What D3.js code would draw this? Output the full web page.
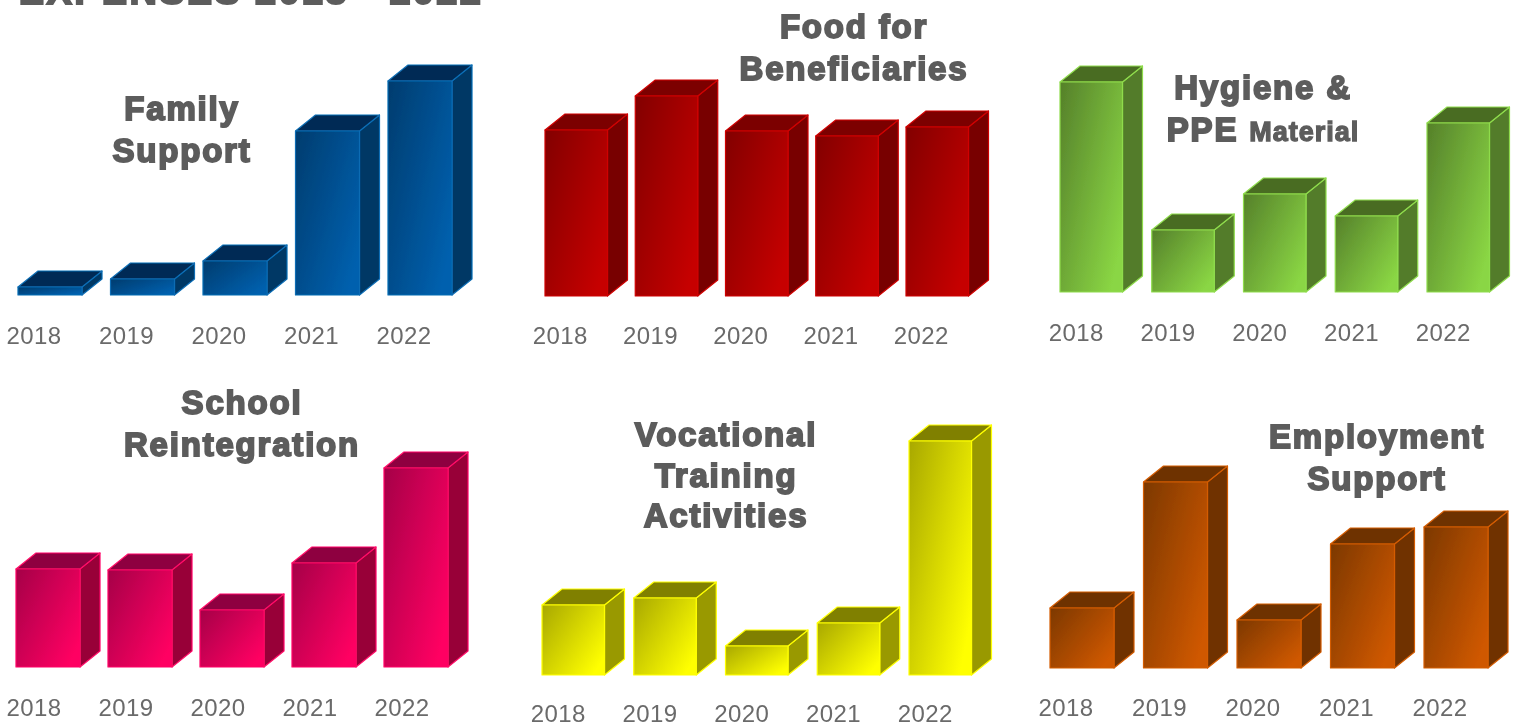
<!DOCTYPE html>
<html>
<head>
<meta charset="utf-8">
<script src="https://cdn.jsdelivr.net/npm/d3@7"></script>
<style>
  html, body { margin: 0; padding: 0; background: #fff; overflow: hidden; }
  svg { display: block; }
  text { font-family: "Liberation Sans", Arial, sans-serif; }
  .panel-title, .page-title { font-weight: 700; fill: #5c5c5c; stroke: #5c5c5c; text-anchor: middle; }
  .year-axis text { fill: #6a6a6a; font-size: 24px; letter-spacing: 0.4px; }
</style>
</head>
<body>
<div id="chart"></div>
<script>
// no y axis in the source, values are relative bar heights
const years = ["2018", "2019", "2020", "2021", "2022"];
const familySupport = [8, 16, 34, 164, 214];
const foodForBeneficiaries = [166, 200, 165, 160, 169];
const hygieneAndPpe = [210, 62, 98, 76, 169];
const schoolReintegration = [98, 97, 57, 104, 199];
const vocationalTraining = [70, 77, 29, 52, 234];
const employmentSupport = [60, 186, 48, 124, 141];

const width = 1521;
const height = 724;
const depthX = 20;
const depthY = 16;

const panels = [
  { id: "family", values: familySupport, left: 18, step: 92.5, barWidth: 64, base: 295, labelY: 327, labelShift: -16,
    front: ["#003c6e", "#0060ae"], top: "#002b54", side: "#003865", edge: "#0a6cb4",
    title: [["Family"], ["Support"]], titleX: 182, titleY: 120, lineHeight: 41.5 },
  { id: "food", values: foodForBeneficiaries, left: 545, step: 90.25, barWidth: 62.5, base: 296, labelY: 327, labelShift: -16,
    front: ["#820000", "#c60000"], top: "#7c0000", side: "#780000", edge: "#d00000",
    title: [["Food for"], ["Beneficiaries"]], titleX: 854, titleY: 38, lineHeight: 41.5 },
  { id: "hygiene", values: hygieneAndPpe, left: 1060, step: 91.75, barWidth: 62.5, base: 292, labelY: 324, labelShift: -15,
    front: ["#55802a", "#8ad644"], top: "#486c22", side: "#527c2a", edge: "#8fdc4c",
    title: [["Hygiene &"], ["PPE ", "Material"]], titleX: 1263, titleY: 99, lineHeight: 41.5 },
  { id: "school", values: schoolReintegration, left: 16, step: 92, barWidth: 64, base: 667, labelY: 699, labelShift: -14,
    front: ["#a50048", "#ff0062"], top: "#8e0040", side: "#980038", edge: "#ff0a66",
    title: [["School"], ["Reintegration"]], titleX: 242, titleY: 414, lineHeight: 41.5 },
  { id: "vocational", values: vocationalTraining, left: 542, step: 91.75, barWidth: 62.5, base: 675, labelY: 705, labelShift: -15,
    front: ["#a8a800", "#ffff00"], top: "#808000", side: "#999900", edge: "#ffff00",
    title: [["Vocational"], ["Training"], ["Activities"]], titleX: 726, titleY: 446, lineHeight: 40.5 },
  { id: "employment", values: employmentSupport, left: 1050, step: 93.5, barWidth: 64, base: 668, labelY: 699, labelShift: -16,
    front: ["#7c3800", "#cf5800"], top: "#6e3000", side: "#703200", edge: "#d45c00",
    title: [["Employment"], ["Support"]], titleX: 1377, titleY: 448, lineHeight: 41.5 },
];

const svg = d3.select("#chart").append("svg")
  .attr("width", width)
  .attr("height", height)
  .attr("viewBox", [0, 0, width, height]);

const defs = svg.append("defs");

// the source is a slightly soft screenshot
defs.append("filter").attr("id", "soft")
  .append("feGaussianBlur").attr("stdDeviation", 0.45);

svg.append("text")
  .attr("class", "page-title")
  .attr("x", 251)
  .attr("y", 4)
  .attr("font-size", 38)
  .attr("stroke-width", 1.9)
  .attr("letter-spacing", 2.3)
  .attr("filter", "url(#soft)")
  .text("EXPENSES 2018 - 2022");

panels.forEach(drawPanel);

function drawPanel(p) {
  const barWidth = p.barWidth;

  const x = d3.scaleBand()
    .domain(years)
    .range([p.left, p.left + 4 * p.step + barWidth])
    .paddingInner(1 - barWidth / p.step)
    .paddingOuter(0);

  const y = d3.scaleLinear()
    .domain([0, 220])
    .range([p.base, p.base - 220]);

  const grad = defs.append("linearGradient")
    .attr("id", `front-${p.id}`)
    .attr("x1", 0).attr("y1", 0)
    .attr("x2", 1).attr("y2", 0.75);
  grad.append("stop").attr("offset", 0).attr("stop-color", p.front[0]);
  grad.append("stop").attr("offset", 1).attr("stop-color", p.front[1]);

  const g = svg.append("g").attr("class", `panel panel-${p.id}`);

  const bar = g.selectAll(".bar")
    .data(years.map((year, i) => ({ year, value: p.values[i] })))
    .join("g")
    .attr("class", "bar")
    .attr("stroke", p.edge)
    .attr("stroke-width", 1.2)
    .attr("stroke-linejoin", "round")
    .attr("filter", "url(#soft)");

  bar.append("path")
    .attr("fill", p.side)
    .attr("d", (d) => {
      const x1 = x(d.year) + barWidth;
      const yt = y(d.value);
      return `M${x1},${yt}l${depthX},${-depthY}V${p.base - depthY}L${x1},${p.base}Z`;
    });

  bar.append("path")
    .attr("fill", p.top)
    .attr("d", (d) => {
      const x0 = x(d.year);
      const yt = y(d.value);
      return `M${x0},${yt}l${depthX},${-depthY}h${barWidth}l${-depthX},${depthY}Z`;
    });

  bar.append("rect")
    .attr("fill", `url(#front-${p.id})`)
    .attr("x", (d) => x(d.year))
    .attr("y", (d) => y(d.value))
    .attr("width", barWidth)
    .attr("height", (d) => p.base - y(d.value));

  g.append("g")
    .attr("class", "year-axis")
    .attr("transform", `translate(${p.labelShift},${p.labelY})`)
    .call(d3.axisBottom(x).tickSize(0).tickPadding(0))
    .call((a) => a.select(".domain").remove())
    .call((a) => a.selectAll("text").attr("font-size", null).attr("font-family", null).attr("filter", "url(#soft)"));

  const title = g.append("text")
    .attr("class", "panel-title")
    .attr("font-size", 33)
    .attr("stroke-width", 1.9)
    .attr("letter-spacing", 1.8)
    .attr("filter", "url(#soft)");

  p.title.forEach((line, i) => {
    line.forEach((part, j) => {
      const t = title.append("tspan").text(part);
      if (j === 0) t.attr("x", p.titleX).attr("y", p.titleY + i * p.lineHeight);
      if (j > 0) t.attr("font-size", 27).attr("letter-spacing", 1).attr("stroke-width", 1.3);
    });
  });
}
</script>
</body>
</html>
